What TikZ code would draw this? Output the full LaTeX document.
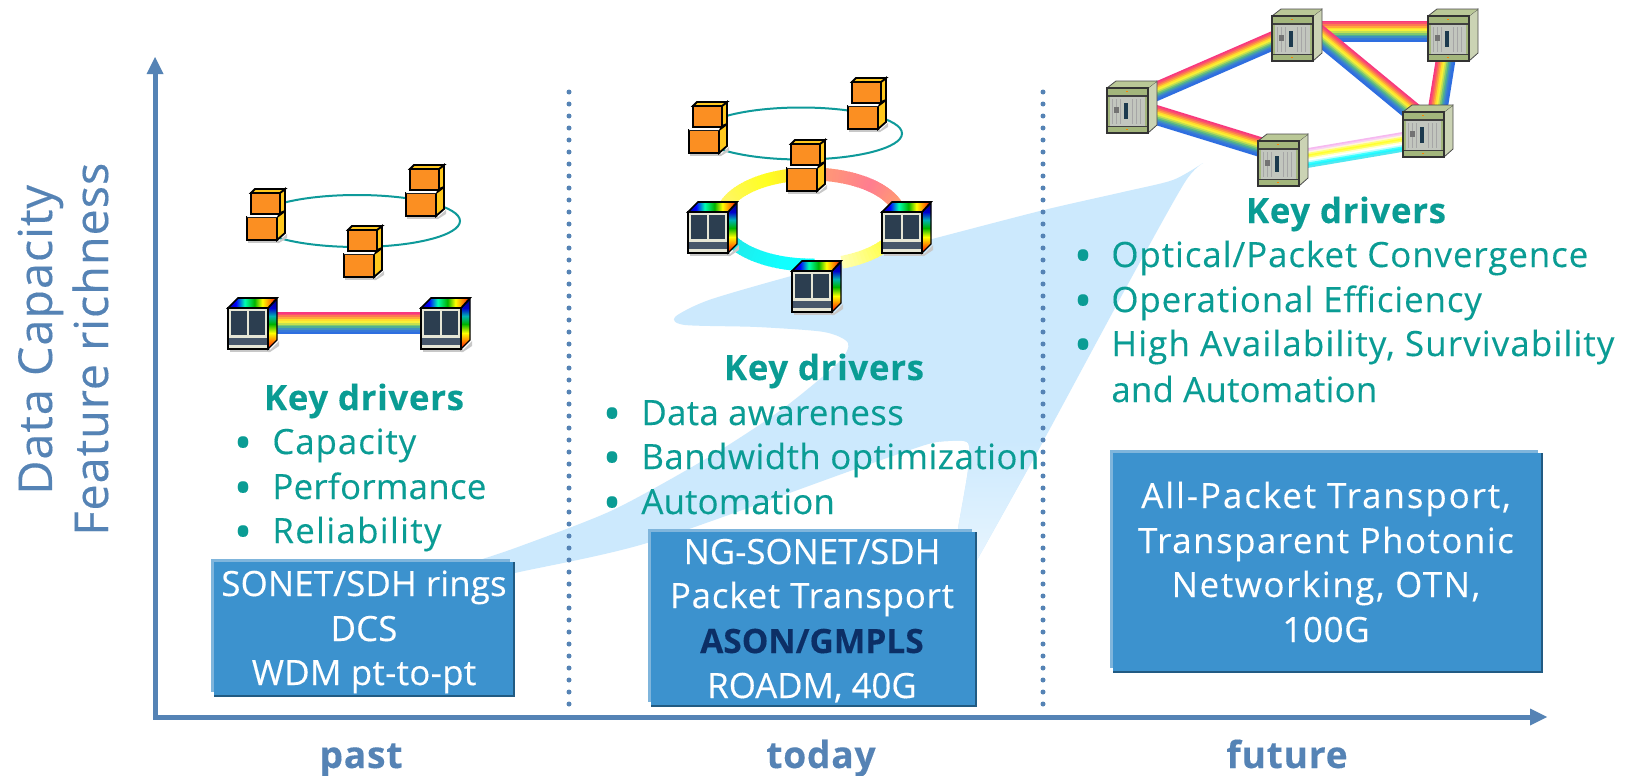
\documentclass[tikz,border=0pt]{standalone}
\usepackage{fontspec}
\setmainfont[LetterSpace=2,FakeBold=0.25]{Open Sans}
\usetikzlibrary{calc}
\newcommand\lsp[1]{\addfontfeature{LetterSpace=#1}}
\definecolor{axisc}{HTML}{5583B5}
\definecolor{tealc}{HTML}{0A9C94}
\definecolor{swoosh}{HTML}{CCE9FD}
\definecolor{swooshl}{HTML}{EAF6FF}
\definecolor{boxc}{HTML}{3C92CE}
\definecolor{boxl}{HTML}{7FB5DC}
\definecolor{boxd}{HTML}{215B83}
\definecolor{darkt}{HTML}{0C2F66}
\definecolor{ellc}{HTML}{0E9A9A}
\definecolor{orf}{HTML}{FB8F22}
\definecolor{ory}{HTML}{FFC81E}
\definecolor{shad}{HTML}{C8C8C8}
\definecolor{cream}{HTML}{E6E6D6}
\definecolor{panel}{HTML}{2C3E50}
\definecolor{vent}{HTML}{46566A}
\definecolor{olive}{HTML}{A3B67C}
\definecolor{olivet}{HTML}{BAC897}
\definecolor{olives}{HTML}{CBD3B4}
\definecolor{rackg}{HTML}{C2C6BE}
\definecolor{rackd}{HTML}{1C3A4E}
\definecolor{rba}{HTML}{F8387E}
\definecolor{rbb}{HTML}{FA4F70}
\definecolor{rbc}{HTML}{FC7A50}
\definecolor{rbd}{HTML}{FFA83C}
\definecolor{rbe}{HTML}{FFDD2C}
\definecolor{rbf}{HTML}{F8F038}
\definecolor{rbg}{HTML}{C4E050}
\definecolor{rbh}{HTML}{80C870}
\definecolor{rbi}{HTML}{50B090}
\definecolor{rbj}{HTML}{4090C0}
\definecolor{rbk}{HTML}{3678D8}
\definecolor{rbl}{HTML}{2E6EE0}
\definecolor{paa}{HTML}{F6B8F0}
\definecolor{pab}{HTML}{F8D0F4}
\definecolor{pac}{HTML}{FFF6D8}
\definecolor{pad}{HTML}{FFFF70}
\definecolor{pae}{HTML}{FFFF30}
\definecolor{paf}{HTML}{FFFF60}
\definecolor{pag}{HTML}{FFFFD0}
\definecolor{pah}{HTML}{FFFFFF}
\definecolor{pai}{HTML}{C0FFFF}
\definecolor{paj}{HTML}{40FFFF}
\definecolor{pak}{HTML}{20F8FF}
\definecolor{pal}{HTML}{50E8F0}
\definecolor{ring1}{HTML}{FFF570}
\definecolor{ring2}{HTML}{FFFF20}
\definecolor{ring3}{HTML}{FFD838}
\definecolor{ring4}{HTML}{FF9E70}
\definecolor{ring5}{HTML}{FF7D90}
\definecolor{ring6}{HTML}{FFFFB0}
\definecolor{ring7}{HTML}{FFFF00}
\definecolor{ring8}{HTML}{25E5E5}
\definecolor{ring9}{HTML}{10FFFF}
\pgfdeclarehorizontalshading{cubetop}{100bp}{color(0bp)=(blue!60!black);color(25bp)=(blue!60!black);color(33bp)=(blue);color(42bp)=(cyan!70!green);color(52bp)=(green!70!black);color(60bp)=(yellow);color(68bp)=(orange);color(75bp)=(red);color(100bp)=(red)}
\pgfdeclareverticalshading{cubeside}{100bp}{color(0bp)=(red);color(25bp)=(red);color(33bp)=(orange);color(41bp)=(yellow);color(50bp)=(green!70!black);color(58bp)=(cyan!70!black);color(66bp)=(blue!80!black);color(75bp)=(blue!50!black);color(100bp)=(blue!50!black)}
\newcommand\rbcolors{rba,rbb,rbc,rbd,rbe,rbf,rbg,rbh,rbi,rbj,rbk,rbl}
\newcommand\pacolors{paa,pab,pac,pad,pae,paf,pag,pah,pai,paj,pak,pal}
\newcommand\rblink[4]{%
  \foreach \rbc [count=\rbk from 0] in #4 {%
    \pgfmathsetmacro\rbo{(5.5-\rbk)*#3/12*0.5}%
    \pgfmathsetmacro\rbw{#3/12*0.5+0.3}%
    \draw[color=\rbc,line width=\rbw pt]
      ($(#1)!\rbo pt!90:(#2)$) -- ($(#2)!\rbo pt!-90:(#1)$);
  }}
\newcommand\ringseg[4]{%
  \foreach \ri in {0,...,19} {%
    \pgfmathsetmacro\raa{#1+(#2-#1)*\ri/20}%
    \pgfmathsetmacro\rab{#1+(#2-#1)*(\ri+1.4)/20}%
    \pgfmathsetmacro\rpp{100-\ri*5}%
    \draw[line width=6.4pt,color=#3!\rpp!#4]
      plot[domain=\raa:\rab,samples=4] ({811+90*cos(\x)},{219.5-45.5*sin(\x)});
  }}
\tikzset{
  x=0.5pt,y=-0.5pt,
  body/.style={anchor=base west,inner sep=0pt,text=tealc,font=\fontsize{17.4pt}{20pt}\selectfont},
  bul/.style={anchor=base,inner sep=0pt,yshift=-2.8pt,text=tealc,font=\fontsize{24pt}{26pt}\selectfont},
  head/.style={anchor=base,inner sep=0pt,text=tealc,font=\fontsize{17.4pt}{20pt}\selectfont\bfseries},
  boxt/.style={anchor=base,inner sep=0pt,text=white,font=\fontsize{17.4pt}{20pt}\selectfont},
  axl/.style={anchor=base,inner sep=0pt,text=axisc,font=\fontsize{18.6pt}{20pt}\selectfont\bfseries},
  ylab/.style={anchor=base west,inner sep=0pt,rotate=90,text=axisc,font=\fontsize{23.4pt}{26pt}\selectfont},
  axisl/.style={draw=axisc,line width=2.5pt},
  dots/.style={draw=axisc,line width=2.5pt,line cap=round,dash pattern=on 0pt off 6pt},
  mainbox/.style={fill=boxc,draw=none},
  orangestack/.pic={
    \fill[shad] (1,0) rectangle (32,3);
    \fill[shad] (30,3) -- (40,-6) -- (40,-2) -- (32,3) -- cycle;
    \draw[black,line width=.9pt,fill=ory] (30,0) -- (38,-7) -- (38,-29) -- (30,-23) -- cycle;
    \draw[black,line width=.9pt,fill=orf] (0,-23) rectangle (30,0);
    \fill[white] (1,-26) -- (31,-26) -- (30,-23) -- (0,-23) -- cycle;
    \draw[black,line width=.9pt,fill=ory] (33,-47) -- (38,-51) -- (38,-29) -- (33,-27) -- cycle;
    \draw[black,line width=.9pt,fill=orf] (4,-47) rectangle (33,-26);
    \draw[black,line width=.9pt,fill=ory] (4,-47) -- (8,-51) -- (38,-51) -- (33,-47) -- cycle;
  },
  blackcube/.pic={
    \fill[shad] (2,0) rectangle (42,3);
    \fill[shad] (40,3) -- (51,-8) -- (51,-3) -- (42,3) -- cycle;
    \path[shading=cubeside,draw=black,line width=.7pt] (40,-41) -- (49,-50) -- (49,-9) -- (40,0) -- cycle;
    \path[shading=cubetop,draw=black,line width=.8pt] (0,-41) -- (10,-51) -- (49,-51) -- (40,-41) -- cycle;
    \draw[black,line width=.8pt,fill=cream] (0,-41) rectangle (40,0);
    \fill[panel] (3,-38) rectangle (19,-14);
    \fill[panel] (21,-38) rectangle (37,-14);
    \fill[vent] (1,-11) rectangle (39,-4);
  },
  greenrack/.pic={
    \fill[olives] (41,-45) -- (50,-52) -- (50,-8) -- (41,0) -- cycle;
    \draw[black!70,line width=.4pt] (41,-45) -- (50,-52) -- (50,-8) -- (41,0);
    \fill[olivet] (0,-45) -- (9,-52) -- (50,-52) -- (41,-45) -- cycle;
    \draw[black!70,line width=.4pt] (0,-45) -- (9,-52) -- (50,-52);
    \draw[black!80,line width=.6pt,fill=olive] (0,-45) rectangle (41,0);
    \fill[black!75] (1,-38) rectangle (40,-36);
    \fill[rackg] (3,-36) rectangle (38,-7);
    \foreach \gx in {5,9,13,25,29,33} {\draw[black!35,line width=.4pt] (\gx,-34) -- (\gx,-9);}
    \fill[black!55] (7,-26) rectangle (12,-20);
    \fill[rackd] (17,-30) rectangle (21,-14);
    \fill[black!75] (1,-7) rectangle (40,-6);
    \fill[orange] (19,-42) rectangle (21,-41);
    \fill[orange] (19,-4) rectangle (21,-3);
  },
}
\begin{document}
\begin{tikzpicture}
\useasboundingbox[fill=white] (0,0) rectangle (1630,776);
% swoosh
\begin{scope}
\clip
  plot[smooth,tension=.45] coordinates {(470,563) (518,547) (613,510) (709,457) (781,410) (838,363) (848,343) (824,332) (757,327) (685,325) (675,317) (709,300) (795,275) (936,238) (1044,210) (1123,192) (1173,180) (1203,163)}
  -- plot[smooth,tension=.45] coordinates {(1203,163) (1185,182) (1134,273) (1040,447) (977,560)}
  -- (958,528)
  -- plot[smooth,tension=.45] coordinates {(958,528) (968,470) (968,443) (948,441) (925,445) (853,470) (647,543) (515,573) (470,585)}
  -- cycle;
\fill[swoosh] (400,100) rectangle (1300,620);
\shade[top color=swoosh,bottom color=swooshl] (940,440) rectangle (1060,575);
\end{scope}
% axes
\coordinate (orig) at (155,717);
\coordinate (ytip) at (155,74);
\coordinate (xtip) at (1532,717);
\draw[axisl] (orig) -- (ytip);
\draw[axisl] (153,717) -- (xtip);
\fill[axisc] (155,57) -- (163.5,74) -- (146.5,74) -- cycle;
\fill[axisc] (1547,717) -- (1530,708.5) -- (1530,725.5) -- cycle;
\coordinate (d1a) at (569,92); \coordinate (d1b) at (569,708);
\coordinate (d2a) at (1043,92); \coordinate (d2b) at (1043,708);
\draw[dots] (d1a) -- (d1b);
\draw[dots] (d2a) -- (d2b);
\node[ylab] (yl1) at (52,495) {Data Capacity};
\node[ylab] (yl2) at (108,536) {Feature richness};
\node[axl] (past) at (361,768) {past};
\node[axl] (today) at (821,768) {today};
\node[axl] (future) at (1287,768) {future};
% past devices
\draw[ellc,line width=1pt] (357,221) ellipse [x radius=51.5pt,y radius=13pt];
\pic (a1) at (247,240) {orangestack};
\pic (a2) at (406,216) {orangestack};
\pic (a3) at (344,277) {orangestack};
\coordinate (pa) at (270,323); \coordinate (pb) at (430,323);
\rblink{pa}{pb}{22}{\rbcolors}
\pic (b1) at (228,349) {blackcube};
\pic (b2) at (421,349) {blackcube};
% today devices
\ringseg{165}{120}{ring1}{ring2}
\ringseg{120}{90}{ring2}{ring3}
\ringseg{90}{50}{ring4}{ring5}
\ringseg{50}{20}{ring5}{ring4}
\ringseg{-70}{-15}{ring6}{ring7}
\ringseg{200}{250}{ring8}{ring9}
\ringseg{250}{272}{ring9}{ring9}
\draw[ellc,line width=1pt] (801,133.5) ellipse [x radius=50.5pt,y radius=13pt];
\pic (c1) at (689,153) {orangestack};
\pic (c2) at (848,129) {orangestack};
\pic (c3) at (787,191) {orangestack};
\pic (e1) at (688,253) {blackcube};
\pic (e2) at (882,253) {blackcube};
\pic (e3) at (792,312) {blackcube};
% future network
\coordinate (l1a) at (1140,98.5); \coordinate (l1b) at (1285,35.5);
\coordinate (l2a) at (1140,110); \coordinate (l2b) at (1270,150);
\coordinate (l3a) at (1300,31.5); \coordinate (l3b) at (1440,31.5);
\coordinate (l4a) at (1300,19); \coordinate (l4b) at (1420,118);
\coordinate (l5a) at (1436,120); \coordinate (l5b) at (1448,45);
\coordinate (l6a) at (1290,161); \coordinate (l6b) at (1420,139);
\rblink{l1a}{l1b}{18}{\rbcolors}
\rblink{l2a}{l2b}{19}{\rbcolors}
\rblink{l3a}{l3b}{21}{\rbcolors}
\rblink{l4a}{l4b}{19}{\rbcolors}
\rblink{l5a}{l5b}{19}{\rbcolors}
\rblink{l6a}{l6b}{19}{\pacolors}
\pic (g1) at (1107,133) {greenrack};
\pic (g2) at (1272,61) {greenrack};
\pic (g3) at (1428,61) {greenrack};
\pic (g4) at (1403,157) {greenrack};
\pic (g5) at (1258,186) {greenrack};
% col 1 text
\node[head] (k1) at (364,410) {Key drivers};
\node[bul] (b11) at (243,454) {•};
\node[body] (t11) at (272,454) {\lsp{2.75}Capacity};
\node[bul] (b12) at (243,499) {•};
\node[body] (t12) at (272,499) {\lsp{0.9}Performance};
\node[bul] (b13) at (243,543) {•};
\node[body] (t13) at (272,543) {\lsp{3.9}Reliability};
% col 2 text
\node[head] (k2) at (824,380) {Key drivers};
\node[bul] (b21) at (612,425) {•};
\node[body] (t21) at (641,425) {\lsp{1}Data awareness};
\node[bul] (b22) at (612,469) {•};
\node[body] (t22) at (641,469) {\lsp{1.4}Bandwidth optimization};
\node[bul] (b23) at (612,514) {•};
\node[body] (t23) at (641,514) {\lsp{0.5}Automation};
% col 3 text
\node[head] (k3) at (1346,223) {Key drivers};
\node[bul] (b31) at (1083,267) {•};
\node[body] (t31) at (1111,267) {\lsp{2.8}Optical/Packet Convergence};
\node[bul] (b32) at (1083,312) {•};
\node[body] (t32) at (1111,312) {\lsp{2.7}Operational Efficiency};
\node[bul] (b33) at (1083,356) {•};
\node[body] (t33) at (1111,356) {\lsp{3.4}High Availability, Survivability};
\node[body] (t34) at (1111,402) {\lsp{0.7}and Automation};
% boxes
\fill[boxd] (213.5,562) rectangle (515,697);
\fill[boxl] (211,559) rectangle (510,692);
\fill[mainbox] (213.5,561.5) rectangle (512.5,694.5);
\node[boxt] (s1) at (364,596) {\lsp{0.5}SONET/SDH rings};
\node[boxt] (s2) at (364,641) {\lsp{0.5}DCS};
\node[boxt] (s3) at (364,685) {\lsp{1}WDM pt-to-pt};
\fill[boxd] (651,532) rectangle (977,707);
\fill[boxl] (648,529) rectangle (972,702);
\fill[mainbox] (650.5,531.5) rectangle (974.5,704.5);
\node[boxt] (n1) at (812,564) {\lsp{0}NG-SONET/SDH};
\node[boxt] (n2) at (812,608) {\lsp{2.4}Packet Transport};
\node[boxt,text=darkt,font=\fontsize{16.75pt}{20pt}\selectfont\bfseries] (n3) at (812,653) {\lsp{0}ASON/GMPLS};
\node[boxt] (n4) at (812,698) {\lsp{0}ROADM, 40G};
\fill[boxd] (1113,453) rectangle (1543,673);
\fill[boxl] (1110,450) rectangle (1538,668);
\fill[mainbox] (1113,452.5) rectangle (1540.5,670.5);
\node[boxt] (f1) at (1326,508) {\lsp{5.7}All-Packet Transport,};
\node[boxt] (f2) at (1326,553) {\lsp{4.4}Transparent Photonic};
\node[boxt] (f3) at (1326,597) {\lsp{4.7}Networking, OTN,};
\node[boxt] (f4) at (1326,642) {100G};
\end{tikzpicture}
\end{document}
